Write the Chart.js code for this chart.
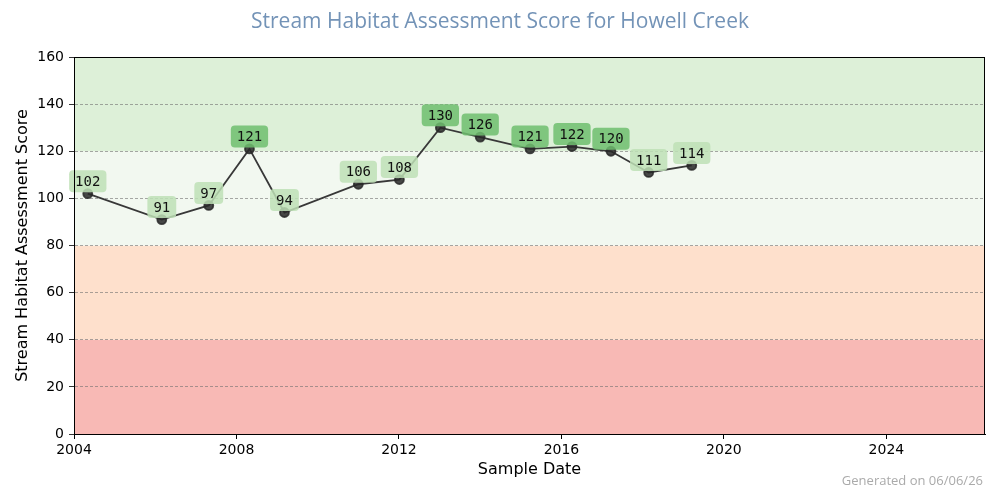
<!DOCTYPE html>
<html lang="en">
<head>
    <meta charset="UTF-8">
    <title>Stream Habitat Assessment Score for Howell Creek</title>
    <script src="https://cdn.jsdelivr.net/npm/chart.js@4.4.0/dist/chart.umd.min.js"></script>
    <style>
        body { margin: 0; background: #fff; }
        #myChart { display: block; }
    </style>
</head>
<body>
<canvas id="myChart" width="1000" height="500"></canvas>

<script>
    // sample dates and scores
    const sampleDates = ['2004-05-04', '2006-03-01', '2007-04-27', '2008-04-27', '2009-03-08',
        '2011-01-01', '2012-01-05', '2013-01-08', '2014-01-01', '2015-03-25',
        '2016-04-05', '2017-03-22', '2018-02-24', '2019-03-18'];
    const scores = [102, 91, 97, 121, 94, 106, 108, 130, 126, 121, 122, 120, 111, 114];

    const xTicks = [2004, 2008, 2012, 2016, 2020, 2024];
    const generatedDate = '2026-06-06';
    const chartTitle = 'Stream Habitat Assessment Score for Howell Creek';
    const generatedLabel = 'Generated on 06/06/26';

    // score bands (bottom to top) and their fills
    const bandLimits = [0, 40, 80, 120, 160];
    const bandColors = ['#f8b9b5', '#fee0cc', '#f2f8f0', '#ddf0d8'];
    const goodThreshold = 120;

    function toYear(str) {
        const d = new Date(str + 'T00:00:00Z');
        const y = d.getUTCFullYear();
        const start = Date.UTC(y, 0, 1);
        const end = Date.UTC(y + 1, 0, 1);
        return y + (d.getTime() - start) / (end - start);
    }

    const points = sampleDates.map((s, i) => ({x: toYear(s), y: scores[i]}));

    const bandsPlugin = {
        id: 'bands',
        beforeDraw(chart) {
            const {ctx, chartArea} = chart;
            const y = chart.scales.y;
            ctx.save();
            for (let i = 0; i < bandColors.length; i++) {
                const top = y.getPixelForValue(bandLimits[i + 1]);
                const bottom = y.getPixelForValue(bandLimits[i]);
                ctx.fillStyle = bandColors[i];
                ctx.fillRect(chartArea.left, top, chartArea.right - chartArea.left, bottom - top);
            }
            ctx.restore();
        },
        afterDatasetsDraw(chart) {
            const {ctx} = chart;
            const meta = chart.getDatasetMeta(0);
            ctx.save();
            ctx.font = '14px "DejaVu Sans Mono"';
            ctx.textAlign = 'center';
            ctx.textBaseline = 'middle';
            meta.data.forEach((pt, i) => {
                const txt = String(scores[i]);
                const w = ctx.measureText(txt).width + 12;
                const h = 22;
                const cx = pt.x;
                const cy = pt.y - 12.5;
                ctx.fillStyle = scores[i] >= goodThreshold ? 'rgba(110,190,110,0.85)' : 'rgba(190,225,182,0.85)';
                ctx.beginPath();
                ctx.roundRect(cx - w / 2, cy - h / 2, w, h, 4);
                ctx.fill();
                ctx.fillStyle = '#111';
                ctx.fillText(txt, cx, cy + 1);
            });
            ctx.restore();
        },
        afterDraw(chart) {
            const {ctx, chartArea} = chart;
            ctx.save();
            ctx.strokeStyle = '#000';
            ctx.lineWidth = 1;
            ctx.strokeRect(Math.round(chartArea.left) + 0.5, Math.round(chartArea.top) + 0.5,
                Math.round(chartArea.right - chartArea.left) - 1, Math.round(chartArea.bottom - chartArea.top));

            ctx.textBaseline = 'middle';
            ctx.fillStyle = '#7393b7';
            ctx.font = '21px "Open Sans"';
            ctx.textAlign = 'center';
            ctx.fillText(chartTitle, 500, 22);

            ctx.fillStyle = '#aaaaaa';
            ctx.font = '13px "Open Sans"';
            ctx.textAlign = 'right';
            ctx.fillText(generatedLabel, 983, 481);
            ctx.restore();
        }
    };

    const ctx = document.getElementById('myChart').getContext('2d');
    const myChart = new Chart(ctx, {
        type: 'line',
        data: {
            datasets: [{
                data: points,
                borderColor: '#383838',
                borderWidth: 1.8,
                pointRadius: 4.5,
                pointBackgroundColor: 'rgba(40,40,40,0.85)',
                pointBorderColor: 'rgba(40,40,40,0.85)',
                tension: 0,
                fill: false
            }]
        },
        options: {
            responsive: false,
            animation: false,
            layout: {
                padding: {left: 0, right: 15, top: 57, bottom: 0}
            },
            scales: {
                x: {
                    type: 'linear',
                    min: 2004,
                    max: toYear(generatedDate),
                    afterBuildTicks: scale => {
                        scale.ticks = xTicks.map(v => ({value: v}));
                    },
                    afterFit: scale => { scale.height = 66; },
                    ticks: {
                        color: '#000',
                        padding: 3,
                        font: {family: 'DejaVu Sans', size: 14},
                        callback: v => String(v)
                    },
                    grid: {
                        drawOnChartArea: false,
                        tickLength: 5,
                        tickColor: '#000'
                    },
                    border: {color: '#000', width: 1},
                    title: {
                        display: true,
                        text: 'Sample Date',
                        color: '#000',
                        font: {family: 'DejaVu Sans', size: 16},
                        padding: {top: 4, bottom: 21}
                    }
                },
                y: {
                    min: 0,
                    max: 160,
                    afterFit: scale => { scale.width = 74; },
                    ticks: {
                        stepSize: 20,
                        color: '#000',
                        padding: 5,
                        font: {family: 'DejaVu Sans', size: 14}
                    },
                    grid: {
                        color: 'rgba(110,110,110,0.75)',
                        lineWidth: 0.8,
                        tickLength: 5,
                        tickColor: '#000',
                        tickBorderDash: []
                    },
                    border: {color: '#000', width: 1, dash: [3, 2]},
                    title: {
                        display: true,
                        text: 'Stream Habitat Assessment Score',
                        color: '#000',
                        font: {family: 'DejaVu Sans', size: 16},
                        padding: {top: 13, bottom: 0}
                    }
                }
            },
            plugins: {
                legend: {display: false},
                tooltip: {enabled: false},
                title: {display: false}
            }
        },
        plugins: [bandsPlugin]
    });
</script>
</body>
</html>
